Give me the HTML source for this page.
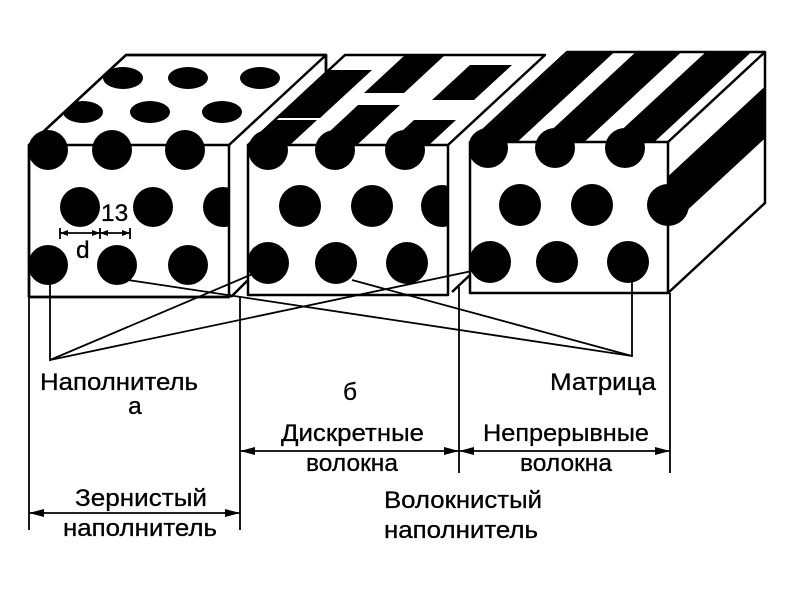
<!DOCTYPE html>
<html><head><meta charset="utf-8"><style>
html,body{margin:0;padding:0;background:#fff;}
svg{display:block;}
text{font-family:"Liberation Sans",Arial,sans-serif;font-size:24.5px;fill:#000;stroke:#000;stroke-width:0.3px;}
</style></head><body>
<svg width="800" height="600" viewBox="0 0 800 600" xmlns="http://www.w3.org/2000/svg">
<defs>
<clipPath id="t1"><polygon points="29,145 229,145 326,55 126,55"/></clipPath>
<clipPath id="f1"><rect x="29" y="100" width="200" height="197"/></clipPath>
<clipPath id="t2"><polygon points="248,145 448,145 545,55 345,55"/></clipPath>
<clipPath id="f2"><rect x="248" y="100" width="200" height="195"/></clipPath>
<clipPath id="t3"><polygon points="470,142 668,142 765,52 567,52"/></clipPath>
<clipPath id="r3"><polygon points="668,142 765,52 765,203 668,293"/></clipPath>
<clipPath id="f3"><rect x="470" y="100" width="198" height="193"/></clipPath>
</defs>
<g stroke="#000" stroke-width="2.5" stroke-linejoin="round">
<polygon points="29,145 126,55 326,55 326,207 229,297 29,297" fill="#fff"/>
<g clip-path="url(#t1)" stroke="none" fill="#000">
<ellipse cx="123" cy="78" rx="20" ry="11"/><ellipse cx="188" cy="78" rx="20" ry="11"/><ellipse cx="260" cy="78" rx="20" ry="11"/>
<ellipse cx="83" cy="112" rx="20" ry="11"/><ellipse cx="150" cy="112" rx="20" ry="11"/><ellipse cx="222" cy="112" rx="20" ry="11"/>
</g>
<g clip-path="url(#f1)" stroke="none" fill="#000">
<circle cx="48" cy="150" r="20"/><circle cx="112" cy="150" r="20"/><circle cx="185" cy="150" r="20"/>
<circle cx="80" cy="207" r="20"/><circle cx="153" cy="207" r="20"/><circle cx="223" cy="207" r="20"/>
<circle cx="48" cy="265" r="20"/><circle cx="117" cy="265" r="20"/><circle cx="188" cy="265" r="20"/>
</g>
<polyline points="29,297 29,145 229,145 229,297 29,297" fill="none"/>
<polyline points="29,145 126,55 326,55 229,145" fill="none"/>
<line x1="326" y1="55" x2="326" y2="110"/>
<polygon points="231,297 231,145 248,145 345,55 545,55 545,205 448,295 248,295" fill="#fff" stroke="none"/>
<line x1="231" y1="297" x2="248" y2="280"/>
<g clip-path="url(#t2)" stroke="none" fill="#000">
<polygon points="330,70 372,70 320,118 278,118"/>
<polygon points="405,55 445,55 404,93 364,93"/>
<polygon points="470,65 512,65 474,100 432,100"/>
<polygon points="275,120 317,120 290,145 248,145"/>
<polygon points="358,105 400,105 357,145 315,145"/>
<polygon points="414,120 456,120 429,145 387,145"/>
</g>
<g clip-path="url(#f2)" stroke="none" fill="#000">
<circle cx="268" cy="150" r="20"/><circle cx="335" cy="150" r="20"/><circle cx="405" cy="150" r="20"/>
<circle cx="300" cy="206" r="21"/><circle cx="372" cy="206" r="21"/><circle cx="442" cy="206" r="21"/>
<circle cx="268" cy="263" r="21"/><circle cx="336" cy="263" r="21"/><circle cx="407" cy="263" r="21"/>
</g>
<rect x="248" y="145" width="200" height="150" fill="none"/>
<polyline points="248,145 345,55 545,55 448,145" fill="none"/>
<polygon points="452,293 452,145 470,142 567,52 765,52 765,203 668,293" fill="#fff" stroke="none"/>
<line x1="452" y1="292" x2="470" y2="275"/>
<g clip-path="url(#t3)" stroke="#000" stroke-width="31">
<line x1="488" y1="148" x2="638" y2="9"/>
<line x1="555" y1="148" x2="705" y2="9"/>
<line x1="625" y1="148" x2="775" y2="9"/>
<line x1="695" y1="148" x2="845" y2="9"/>
</g>
<g clip-path="url(#r3)" stroke="#000" stroke-width="38">
<line x1="665" y1="205" x2="815" y2="66"/>
</g>
<g clip-path="url(#f3)" stroke="none" fill="#000">
<circle cx="488" cy="148" r="20"/><circle cx="555" cy="148" r="20"/><circle cx="625" cy="148" r="20"/>
<circle cx="520" cy="205" r="21"/><circle cx="592" cy="205" r="21"/>
<circle cx="490" cy="262" r="21"/><circle cx="557" cy="262" r="21"/><circle cx="628" cy="262" r="21"/>
</g>
<circle cx="668" cy="205" r="21" fill="#000" stroke="none"/>
<rect x="470" y="142" width="198" height="151" fill="none"/>
<polyline points="470,142 567,52 765,52 668,142" fill="none"/>
<polyline points="765,52 765,203 668,293" fill="none"/>
</g>
<g stroke="#000" stroke-width="1.8" fill="none">
<polyline points="50,265 50,360 262,270"/>
<line x1="50" y1="360" x2="472" y2="271"/>
<polyline points="632,262 632,356 128,280"/>
<line x1="632" y1="356" x2="352" y2="280"/>
<line x1="29" y1="297" x2="29" y2="530"/>
<line x1="240" y1="297" x2="240" y2="530"/>
<line x1="459" y1="287" x2="459" y2="473"/>
<line x1="670" y1="293" x2="670" y2="473"/>
<line x1="29" y1="513" x2="240" y2="513"/>
<line x1="240" y1="451" x2="670" y2="451"/>
<line x1="60" y1="233" x2="130" y2="233"/>
<line x1="60" y1="228" x2="60" y2="239"/>
<line x1="100" y1="228" x2="100" y2="239"/>
<line x1="130" y1="228" x2="130" y2="239"/>
</g>
<g fill="#000">
<polygon points="29,513 44,509 44,517"/><polygon points="240,513 225,509 225,517"/>
<polygon points="240,451 255,447 255,455"/><polygon points="459,451 444,447 444,455"/>
<polygon points="459,451 474,447 474,455"/><polygon points="670,451 655,447 655,455"/>
<polygon points="60,233 68,230 68,236"/><polygon points="100,233 92,230 92,236"/>
<polygon points="100,233 108,230 108,236"/><polygon points="130,233 122,230 122,236"/>
</g>
<text x="101" y="221" font-size="23">13</text>
<text x="76" y="258" font-size="23">d</text>
<text x="40" y="390" textLength="158" lengthAdjust="spacingAndGlyphs">Наполнитель</text>
<text x="135" y="414" text-anchor="middle">а</text>
<text x="350" y="400" text-anchor="middle">б</text>
<text x="550" y="390" textLength="106" lengthAdjust="spacingAndGlyphs">Матрица</text>
<text x="281" y="441" textLength="143" lengthAdjust="spacingAndGlyphs">Дискретные</text>
<text x="352" y="471" text-anchor="middle">волокна</text>
<text x="483" y="441" textLength="166" lengthAdjust="spacingAndGlyphs">Непрерывные</text>
<text x="566" y="471" text-anchor="middle">волокна</text>
<text x="75" y="506" textLength="132" lengthAdjust="spacingAndGlyphs">Зернистый</text>
<text x="63" y="536" textLength="154" lengthAdjust="spacingAndGlyphs">наполнитель</text>
<text x="384" y="508" textLength="158" lengthAdjust="spacingAndGlyphs">Волокнистый</text>
<text x="384" y="538" textLength="154" lengthAdjust="spacingAndGlyphs">наполнитель</text>
</svg>
</body></html>
